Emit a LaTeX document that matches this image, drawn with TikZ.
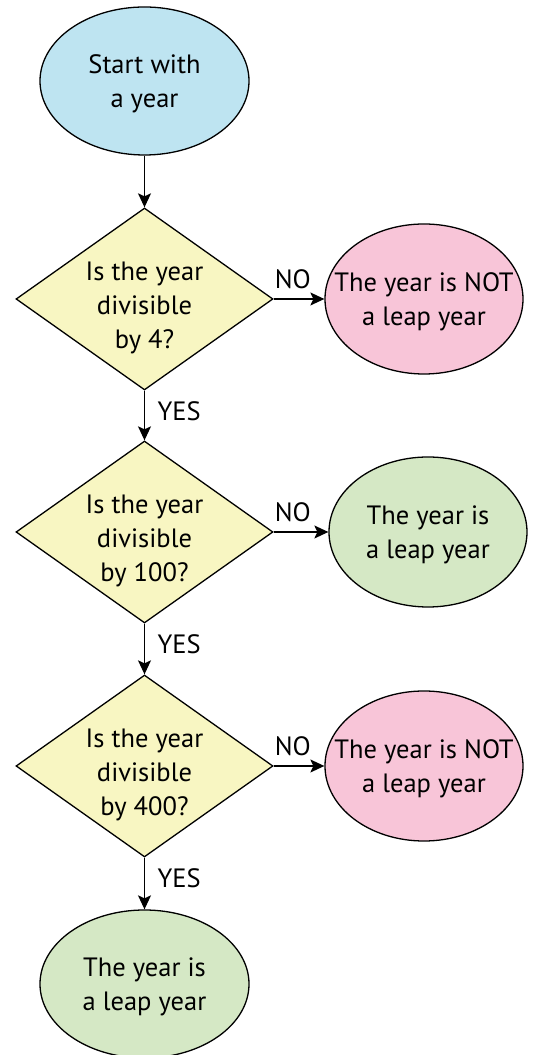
\documentclass[tikz,border=0pt]{standalone}
\usepackage{fontspec}
\setmainfont{PT Sans}
\usetikzlibrary{shapes.geometric,arrows.meta,calc}
\definecolor{startblue}{RGB}{190,228,241}
\definecolor{decyellow}{RGB}{248,246,194}
\definecolor{nopink}{RGB}{248,197,216}
\definecolor{yesgreen}{RGB}{213,232,197}
\begin{document}
\begin{tikzpicture}[x=1pt,y=1pt,
  every node/.style={font=\fontsize{26.5}{34}\selectfont, align=center},
  every label/.style={yshift=-2.5pt},
  oval/.style={ellipse, draw=black, line width=1.3pt, inner sep=0pt},
  leftoval/.style={oval, minimum width=209, minimum height=148},
  rightoval/.style={oval, minimum width=198, minimum height=150},
  decision/.style={diamond, draw=black, line width=1.3pt, fill=decyellow, inner sep=0pt, aspect=1.41, minimum width=257, minimum height=182},
  flow/.style={draw=black, line width=1.3pt, -{Stealth[length=14pt,width=13pt,inset=3pt]}},
  lab/.style={anchor=base west, inner sep=0pt}
]
\useasboundingbox (0,0) rectangle (535,1055);
\node[leftoval, fill=startblue, label={center:{Start with\\a year}}] (start) at (144.5,974) {};
\node[decision, label={[yshift=-6pt]center:{Is the year\\divisible\\by 4?}}] (d1) at (144.5,756) {};
\node[rightoval, fill=nopink, label={center:{The year is NOT\\a leap year}}] (e1) at (424,756) {};
\node[decision, label={[yshift=-6pt]center:{Is the year\\divisible\\by 100?}}] (d2) at (144.5,523) {};
\node[rightoval, fill=yesgreen, label={center:{The year is\\a leap year}}] (e2) at (428,523) {};
\node[decision, label={[yshift=-6pt]center:{Is the year\\divisible\\by 400?}}] (d3) at (144.5,289) {};
\node[rightoval, fill=nopink, label={center:{The year is NOT\\a leap year}}] (e3) at (424,289) {};
\node[leftoval, fill=yesgreen, label={center:{The year is\\a leap year}}] (end) at (144.5,71) {};

\draw[flow] (start) -- (d1);
\draw[flow] (d1) -- (e1);
\draw[flow] (d1) -- (d2);
\draw[flow] (d2) -- (e2);
\draw[flow] (d2) -- (d3);
\draw[flow] (d3) -- (e3);
\draw[flow] (d3) -- (end);

\node[lab] (no1) at ($(d1.east)+(1,10)$) {NO};
\node[lab] (no2) at ($(d2.east)+(1,10)$) {NO};
\node[lab] (no3) at ($(d3.east)+(1,10)$) {NO};
\node[lab] (yes1) at ($(d1.south)+(13,-30)$) {YES};
\node[lab] (yes2) at ($(d2.south)+(13,-30)$) {YES};
\node[lab] (yes3) at ($(d3.south)+(13,-30)$) {YES};
\end{tikzpicture}
\end{document}
